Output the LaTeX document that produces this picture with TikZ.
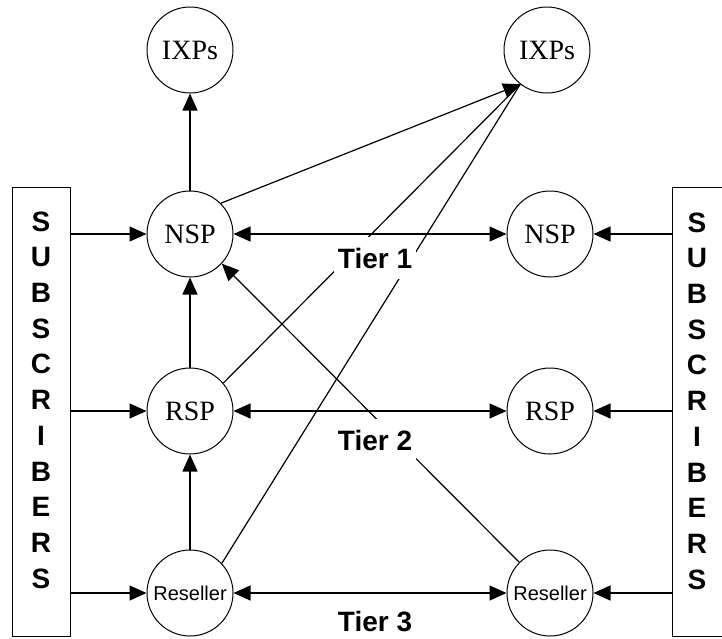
\documentclass[tikz,border=0pt]{standalone}
\usepackage{fontspec}
\setmainfont{Liberation Serif}
\newfontfamily\arialfont{Liberation Sans}
\usetikzlibrary{arrows.meta}
\begin{document}
\begin{tikzpicture}[x=1pt,y=-1pt,
  hub/.style={circle,draw,line width=1pt,minimum size=86pt,inner sep=0pt,font=\fontsize{28}{30}\selectfont},
  resel/.style={hub,font=\arialfont\fontsize{20}{22}\selectfont},
  subbox/.style={draw,line width=1pt,minimum width=58pt,minimum height=449pt,inner sep=0pt},
  subtext/.style={align=center,inner sep=0pt,font=\arialfont\bfseries\fontsize{28}{35.7}\selectfont},
  tier/.style={fill=white,inner xsep=4pt,inner ysep=11pt,font=\arialfont\bfseries\fontsize{28}{30}\selectfont},
  conn/.style={line width=1.2pt},
  arr/.style={conn,-{Triangle[length=17pt,width=15pt]}},
  darr/.style={conn,{Triangle[length=17pt,width=15pt]}-{Triangle[length=17pt,width=15pt]}}
]
\useasboundingbox (0,0) rectangle (722,638);
\fill[white] (0,0) rectangle (722,638);
\node[hub] (ixl) at (190,50) {IXPs};
\node[hub] (ixr) at (547,50) {IXPs};
\node[hub] (nspl) at (190,234) {NSP};
\node[hub] (nspr) at (550,234) {NSP};
\node[hub] (rspl) at (190,411) {RSP};
\node[hub] (rspr) at (550,411) {RSP};
\node[resel] (resl) at (190,593) {Reseller};
\node[resel] (resr) at (550,593) {Reseller};
\node[subbox] (subl) at (41,411.5) {};
\node[subbox] (subr) at (701,411.5) {};
\node[subtext] (sublt) at (41,400) {S\\U\\B\\S\\C\\R\\I\\B\\E\\R\\S};
\node[subtext] (subrt) at (697,401) {S\\U\\B\\S\\C\\R\\I\\B\\E\\R\\S};
\draw[arr] (subl.east |- nspl) -- (nspl);
\draw[arr] (subl.east |- rspl) -- (rspl);
\draw[arr] (subl.east |- resl) -- (resl);
\draw[arr] (subr.west |- nspr) -- (nspr);
\draw[arr] (subr.west |- rspr) -- (rspr);
\draw[arr] (subr.west |- resr) -- (resr);
\draw[darr] (nspl) -- (nspr);
\draw[darr] (rspl) -- (rspr);
\draw[darr] (resl) -- (resr);
\draw[arr] (resl) -- (rspl);
\draw[arr] (rspl) -- (nspl);
\draw[arr] (nspl) -- (ixl);
\coordinate (tip) at (ixr.232);
\draw[arr] (nspl.45) -- (tip);
\draw[conn] (rspl.40) -- (tip);
\draw[conn] (resl.43) -- (tip);
\draw[arr] (resr.135) -- (nspl.-43);
\node[tier] (t1) at (375,258) {Tier 1};
\node[tier] (t2) at (375,440) {Tier 2};
\node[tier] (t3) at (375,621) {Tier 3};
\end{tikzpicture}
\end{document}
